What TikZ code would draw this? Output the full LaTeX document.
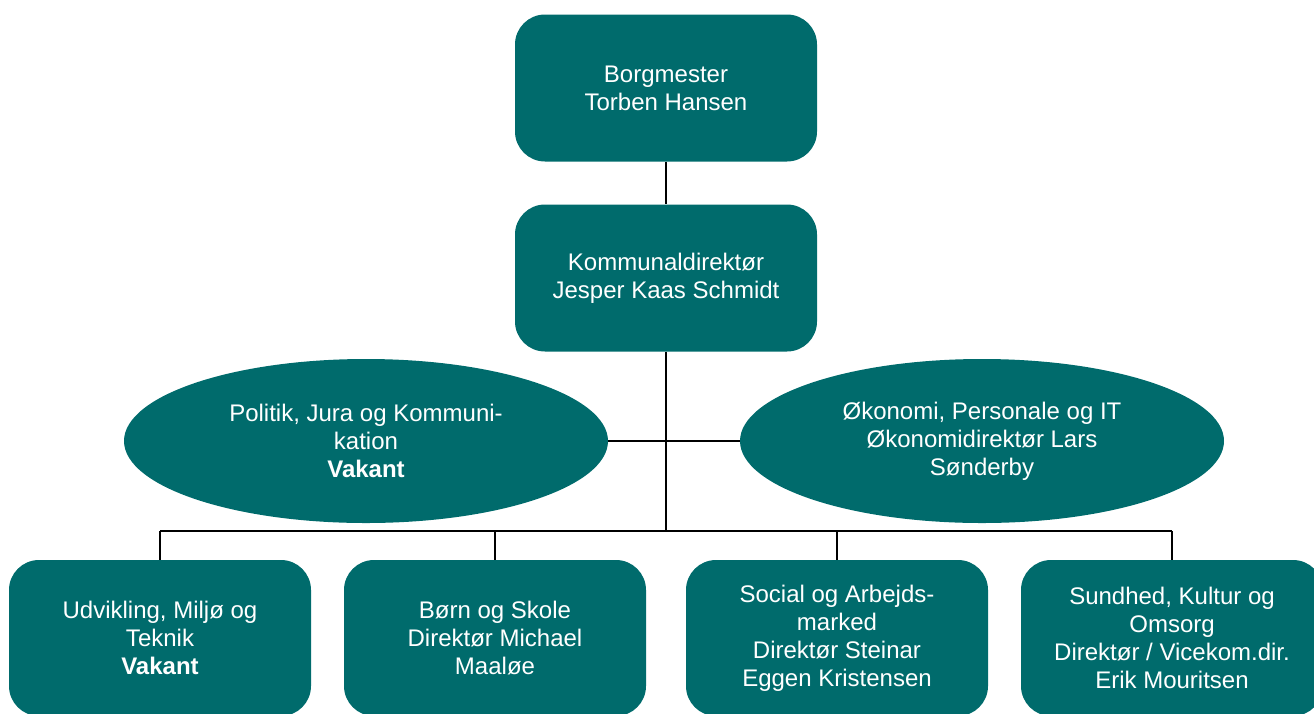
\documentclass[tikz,border=0pt]{standalone}
\usepackage{fontspec}
\setmainfont{Liberation Sans}
\usetikzlibrary{shapes.geometric}
\definecolor{petrol}{RGB}{0,107,108}

\tikzset{
  orgbox/.style={draw=none, fill=petrol, rounded corners=30pt, minimum width=302pt,
    minimum height=156pt, inner sep=0pt, align=center, text=white,
    font=\fontsize{24}{28}\selectfont},
  orgellipse/.style={ellipse, draw=none, fill=petrol, minimum width=484pt,
    minimum height=164pt, inner sep=0pt, align=center, text=white,
    font=\fontsize{24}{28}\selectfont},
  orgline/.style={draw=black, line width=2pt}
}

\begin{document}
\begin{tikzpicture}[x=1pt,y=-1pt]
\useasboundingbox (0,0) rectangle (1314,713);

%Ledelse
\node[orgbox, minimum height=147pt] (borg) at (666,88) {Borgmester\\Torben Hansen};
\node[orgbox, minimum height=147pt] (kd) at (666,278) {Kommunaldirekt\o r\\Jesper Kaas Schmidt};

%Stabe
\node[orgellipse] (pol) at (366,441) {Politik, Jura og Kommuni-\\kation\\\textbf{Vakant}};
\node[orgellipse] (oek) at (982,441) {\O konomi, Personale og IT\\\O konomidirekt\o r Lars\\S\o nderby};

%Forvaltninger
\node[orgbox] (udv) at (160,638) {Udvikling, Milj\o{} og\\Teknik\\\textbf{Vakant}};
\node[orgbox] (boern) at (495,638) {B\o rn og Skole\\Direkt\o r Michael\\Maal\o e};
\node[orgbox] (soc) at (837,638) {Social og Arbejds-\\marked\\Direkt\o r Steinar\\Eggen Kristensen};
\node[orgbox] (sun) at (1172,638) {Sundhed, Kultur og\\Omsorg\\Direkt\o r / Vicekom.dir.\\Erik Mouritsen};

%Linjer
\coordinate (junc) at (666,531);
\draw[orgline] (borg) -- (kd);
\draw[orgline] (kd) -- (junc);
\draw[orgline] (pol.east) -- (oek.west);
\draw[orgline] (udv.north |- junc) -- (sun.north |- junc);
\foreach \n in {udv,boern,soc,sun}
  \draw[orgline] (\n.north) -- (\n.north |- junc);

\end{tikzpicture}
\end{document}
